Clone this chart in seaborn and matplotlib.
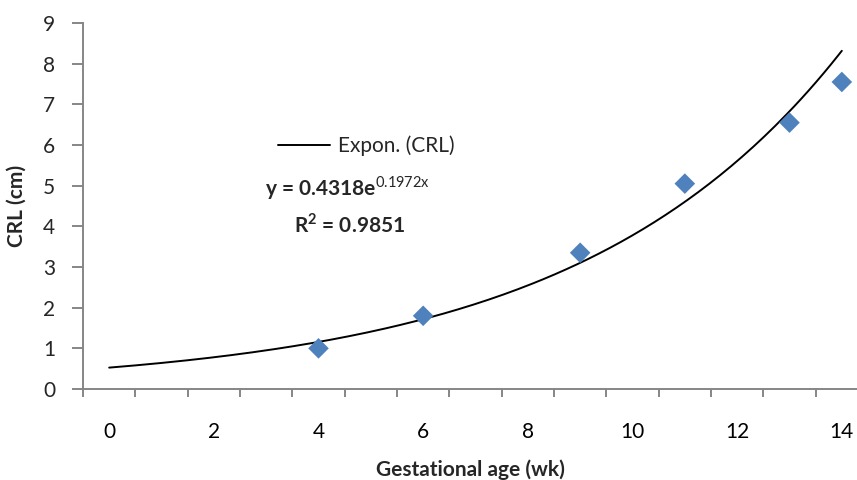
import numpy as np
import pandas as pd
import seaborn as sns
import matplotlib.pyplot as plt
from matplotlib.ticker import MultipleLocator

# Data
weeks = [4, 6, 9, 11, 13, 14]
crl_cm = [1.0, 1.8, 3.35, 5.05, 6.55, 7.55]

# Excel trendline coefficients (shown on the chart); Excel fitted on point index (x + 1)
coef_a = 0.4318
coef_b = 0.1972

sns.set_theme(style="white")
plt.rcParams['font.family'] = ['Lato', 'DejaVu Sans']
plt.rcParams['mathtext.fontset'] = 'custom'
plt.rcParams['mathtext.rm'] = 'Lato'
plt.rcParams['mathtext.bf'] = 'Lato:bold'

df = pd.DataFrame({'week': weeks, 'crl': crl_cm})
xs = np.linspace(0, 14, 200)
trend = pd.DataFrame({'week': xs, 'crl': coef_a * np.exp(coef_b * (xs + 1))})

fig = plt.figure(figsize=(8.57, 4.8), dpi=100)
ax = fig.add_axes([83 / 857, 91 / 480, 1 - 83 / 857, (389 - 23) / 480])

sns.lineplot(data=trend, x='week', y='crl', color='black', linewidth=1.4,
             ax=ax, label='Expon. (CRL)')
sns.scatterplot(data=df, x='week', y='crl', marker='D', s=110, color='#4F81BD',
                edgecolor='none', ax=ax, zorder=3, legend=False)

ax.set_xlim(-0.5, 14.29)
ax.set_ylim(0, 9)
ax.set_xticks(range(0, 15, 2))
ax.xaxis.set_minor_locator(MultipleLocator(1, offset=0.5))
ax.set_yticks(range(0, 10))
ax.tick_params(axis='x', which='major', length=0, pad=24, labelsize=15, colors='#000000')
ax.tick_params(axis='x', which='minor', length=6, width=1.4, color='#868686', direction='out', bottom=True)
ax.tick_params(axis='y', length=8, width=1.4, color='#868686', direction='out', left=True,
               pad=12, labelsize=15)

for side in ['top', 'right']:
    ax.spines[side].set_visible(False)
for side in ['left', 'bottom']:
    ax.spines[side].set_color('#868686')
    ax.spines[side].set_linewidth(1.4)
ax.spines['left'].set_bounds(0, 9)

ax.set_xlabel('Gestational age (wk)', fontsize=15, fontweight='bold', labelpad=12)
ax.set_ylabel('CRL (cm)', fontsize=15, fontweight='bold', labelpad=12)

leg = ax.legend(loc='center left', bbox_to_anchor=(0.228, 0.665), frameon=False,
                fontsize=15, handlelength=2.5, handletextpad=0.35)
ax.text(0.342, 0.55, r'y = 0.4318e$^{\mathrm{0.1972x}}$', transform=ax.transAxes,
        ha='center', va='center', fontsize=15, fontweight='bold')
ax.text(0.345, 0.45, r'R$^{\mathbf{2}}$ = 0.9851', transform=ax.transAxes,
        ha='center', va='center', fontsize=15, fontweight='bold')

fig.savefig('out.png', dpi=100)
